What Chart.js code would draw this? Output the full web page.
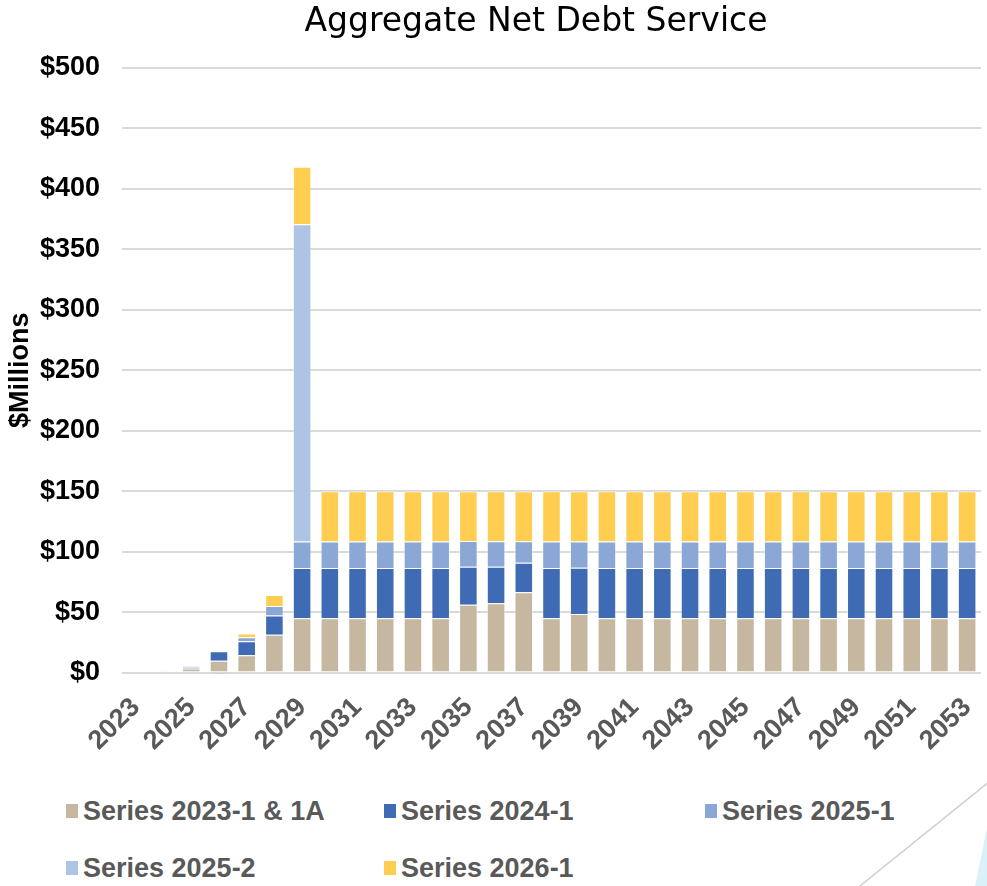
<!DOCTYPE html>
<html lang="en">
<head>
  <meta charset="UTF-8" />
  <title>Aggregate Net Debt Service</title>
  <script src="https://cdn.jsdelivr.net/npm/chart.js"></script>
  <style>
    body {
      margin: 0;
      background: #ffffff;
      font-family: 'Liberation Sans', Arial, sans-serif;
    }
    #wrap {
      position: relative;
      width: 987px;
      height: 886px;
      overflow: hidden;
    }
    #chart { position: absolute; left: 0; top: 0; }
    #legend {
      position: absolute;
      left: 66px;
      top: 797px;
      display: grid;
      grid-template-columns: 318px 321px 260px;
      row-gap: 29px;
    }
    .item {
      display: flex;
      align-items: center;
      font-weight: bold;
      font-size: 27px;
      color: #595959;
      line-height: 28px;
      white-space: nowrap;
    }
    .swatch {
      width: 12px;
      height: 14px;
      margin-right: 5px;
      flex: none;
    }
    #deco { position: absolute; left: 0; top: 0; pointer-events: none; }
  </style>
</head>
<body>
  <div id="wrap">
    <canvas id="chart" width="987" height="790"></canvas>
    <div id="legend"></div>
    <svg id="deco" width="987" height="886">
      <line x1="990" y1="781" x2="855" y2="890" stroke="#d0d0d0" stroke-width="1.5"/>
      <polygon points="987,828 975,886 987,886" fill="#daf1f8"/>
    </svg>
  </div>

  <script>
    const chartTitle = "Aggregate Net Debt Service";
    const axisTitle = "$Millions";

    const years = ["2023", "2024", "2025", "2026", "2027", "2028", "2029", "2030",
      "2031", "2032", "2033", "2034", "2035", "2036", "2037", "2038", "2039", "2040",
      "2041", "2042", "2043", "2044", "2045", "2046", "2047", "2048", "2049", "2050",
      "2051", "2052", "2053"];

    const series2023 = [0, 0.8, 3.5, 9.9, 14.3, 31.4, 45, 45, 45, 45, 45, 45, 56.2, 57.3, 66.4, 45,
      48.5, 45, 45, 45, 45, 45, 45, 45, 45, 45, 45, 45, 45, 45, 45];
    const series2024 = [0, 0, 1.0, 7.7, 11.6, 15.9, 41.6, 41.6, 41.6, 41.6, 41.6, 41.6, 31.4, 30.2, 24.4, 41.6,
      38.2, 41.6, 41.6, 41.6, 41.6, 41.6, 41.6, 41.6, 41.6, 41.6, 41.6, 41.6, 41.6, 41.6, 41.6];
    const series2025a = [0, 0, 0.6, -1.2, 3.3, 7.8, 21.8, 21.8, 21.8, 21.8, 21.8, 21.8, 21.2, 21.2, 17.9, 21.8,
      21.8, 21.8, 21.8, 21.8, 21.8, 21.8, 21.8, 21.8, 21.8, 21.8, 21.8, 21.8, 21.8, 21.8, 21.8];
    const series2025b = [0, 0, 0, 0, 0, 0, 262.3, 0, 0, 0, 0, 0, 0, 0, 0, 0,
      0, 0, 0, 0, 0, 0, 0, 0, 0, 0, 0, 0, 0, 0, 0];
    const series2026 = [0, 0, 0, 0, 3.1, 9.1, 47.6, 41.6, 41.6, 41.6, 41.6, 41.6, 41.2, 41.3, 41.3, 41.6,
      41.5, 41.6, 41.6, 41.6, 41.6, 41.6, 41.6, 41.6, 41.6, 41.6, 41.6, 41.6, 41.6, 41.6, 41.6];

    const seriesNames = ["Series 2023-1 & 1A", "Series 2024-1", "Series 2025-1", "Series 2025-2", "Series 2026-1"];
    const seriesColors = ["#c6b7a1", "#3e6bb4", "#8aa7d6", "#aec4e4", "#ffce51"];
    const seriesData = [series2023, series2024, series2025a, series2025b, series2026];

    const yTicks = [0, 50, 100, 150, 200, 250, 300, 350, 400, 450, 500];

    // title sits a bit right of the canvas centre, like the source slide
    const titlePlugin = {
      id: "slideTitle",
      afterDraw(chart) {
        const ctx = chart.ctx;
        ctx.save();
        ctx.font = '33px "DejaVu Sans"';
        ctx.fillStyle = "#000";
        ctx.textAlign = "center";
        ctx.textBaseline = "alphabetic";
        ctx.fillText(chartTitle, 536, 31);
        ctx.restore();
      }
    };

    const boldFont = { family: "Liberation Sans", size: 27, weight: "bold" };

    const chart = new Chart(document.getElementById("chart"), {
      type: "bar",
      data: {
        labels: years,
        datasets: seriesNames.map((name, i) => ({
          label: name,
          data: seriesData[i],
          backgroundColor: seriesColors[i],
          borderColor: "rgba(255,255,255,0.45)",
          borderWidth: 1,
          barPercentage: 0.67,
          categoryPercentage: 1,
          clip: false
        }))
      },
      options: {
        responsive: false,
        devicePixelRatio: 1,
        animation: false,
        layout: { padding: { left: 4, right: 6, top: 68, bottom: 22 } },
        plugins: {
          legend: { display: false },
          title: { display: false },
          tooltip: { enabled: false }
        },
        scales: {
          x: {
            stacked: true,
            grid: { display: false },
            border: { display: false },
            afterFit: axis => { axis.paddingLeft = 0; axis.paddingRight = 0; },
            ticks: {
              autoSkip: false,
              maxRotation: 45,
              minRotation: 45,
              padding: 11,
              color: "#595959",
              font: boldFont,
              callback: (v, i) => (i % 2 === 0 ? years[i] : "")
            }
          },
          y: {
            stacked: true,
            min: yTicks[0],
            max: yTicks[yTicks.length - 1],
            afterBuildTicks: axis => { axis.ticks = yTicks.map(v => ({ value: v })); },
            afterFit: axis => { axis.width = 118; },
            grid: { color: "#d9d9d9", lineWidth: 2, drawTicks: false },
            border: { display: false },
            title: {
              display: true,
              text: axisTitle,
              color: "#000",
              padding: 0,
              font: boldFont
            },
            ticks: {
              padding: 22,
              color: "#000",
              font: boldFont,
              callback: v => "$" + v
            }
          }
        }
      },
      plugins: [titlePlugin]
    });

    const legend = document.getElementById("legend");
    chart.data.datasets.forEach(ds => {
      const item = document.createElement("div");
      item.className = "item";
      item.innerHTML = `<span class="swatch" style="background:${ds.backgroundColor}"></span>${ds.label}`;
      legend.appendChild(item);
    });
  </script>
</body>
</html>
